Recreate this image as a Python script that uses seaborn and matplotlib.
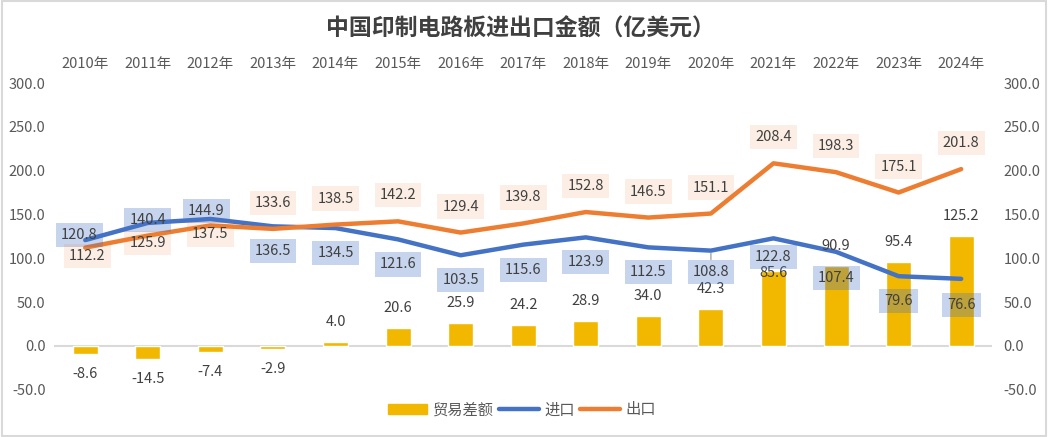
import numpy as np
import pandas as pd
import matplotlib
matplotlib.use("Agg")
import matplotlib.pyplot as plt
import seaborn as sns
from matplotlib.patches import Patch, Rectangle
from matplotlib.lines import Line2D

years = ["2010年", "2011年", "2012年", "2013年", "2014年", "2015年", "2016年", "2017年",
         "2018年", "2019年", "2020年", "2021年", "2022年", "2023年", "2024年"]
balance = [-8.6, -14.5, -7.4, -2.9, 4.0, 20.6, 25.9, 24.2, 28.9, 34.0, 42.3, 85.6, 90.9, 95.4, 125.2]
imports = [120.8, 140.4, 144.9, 136.5, 134.5, 121.6, 103.5, 115.6, 123.9, 112.5, 108.8, 122.8, 107.4, 79.6, 76.6]
exports = [112.2, 125.9, 137.5, 133.6, 138.5, 142.2, 129.4, 139.8, 152.8, 146.5, 151.1, 208.4, 198.3, 175.1, 201.8]

# label offsets in pixels (dx, dy), mimicking excel's placement
imp_off = [(-6, 5), (0, 3), (-4, 8), (0, -25), (0, -25), (0, -25), (0, -25), (0, -25),
           (0, -25), (0, -25), (0, -21), (0, -19), (0, -26), (0, -25), (0, -26)]
exp_off = [(2, -8), (0, -7), (0, -9), (0, 26), (0, 26), (0, 26), (0, 26), (0, 26),
           (0, 26), (0, 26), (0, 26), (0, 26), (0, 26), (0, 26), (0, 26)]
bal_off = [(0, -20)] * 4 + [(0, 20)] * 7 + [(0, -2)] + [(0, 20)] * 3

sns.set_style("white")
plt.rcParams['font.family'] = ['Noto Sans CJK SC', 'DejaVu Sans']

GOLD = "#F2B800"
BLUE = "#4472C4"
ORANGE = "#ED7D31"
TXT = "#404040"
TICK = "#595959"

df = pd.DataFrame({"year": years, "balance": balance, "imports": imports, "exports": exports})
df["pos"] = np.arange(len(df))

fig = plt.figure(figsize=(10.48, 4.37), dpi=100)
ax = fig.add_axes([0.0515, 0.108, 0.8955, 0.702])

sns.barplot(data=df, x="pos", y="balance", color=GOLD, width=0.4, ax=ax,
            saturation=1, native_scale=True, zorder=2)
sns.lineplot(data=df, x="pos", y="imports", color=BLUE, lw=3.2, ax=ax, zorder=3,
             solid_capstyle="round")
sns.lineplot(data=df, x="pos", y="exports", color=ORANGE, lw=3.2, ax=ax, zorder=3,
             solid_capstyle="round")

ax.axhline(0, color="#D9D9D9", lw=1.5, zorder=1)
ax.set_xlim(-0.5, len(years) - 0.5)
ax.set_ylim(-50, 300)
ticks = np.arange(-50, 301, 50)
ax.set_yticks(ticks)
ax.set_yticklabels([f"{v:.1f}" for v in ticks], color=TICK, fontsize=10.5)
ax.set_xticks(df["pos"])
ax.set_xticklabels(years, color=TICK, fontsize=10.5)
ax.xaxis.tick_top()
ax.tick_params(axis="x", length=0, pad=9)
ax.tick_params(axis="y", length=0, pad=6)
ax.set_xlabel("")
ax.set_ylabel("")
for s in ax.spines.values():
    s.set_visible(False)

ax2 = ax.twinx()
ax2.set_ylim(-50, 300)
ax2.set_yticks(ticks)
ax2.set_yticklabels([f"{v:.1f}" for v in ticks], color=TICK, fontsize=10.5)
ax2.tick_params(axis="y", length=0, pad=8)
for s in ax2.spines.values():
    s.set_visible(False)

# data labels
for i in range(len(years)):
    ax.annotate(f"{balance[i]:.1f}", (i, balance[i]), xytext=bal_off[i], textcoords="offset pixels",
                ha="center", va="center", fontsize=10.5, color=TXT, zorder=5)
    arrow = dict(arrowstyle="-", color="#A6A6A6", lw=1, shrinkA=0, shrinkB=2) if i == 10 else None
    ax.annotate(f"{imports[i]:.1f}", (i, imports[i]), xytext=imp_off[i], textcoords="offset pixels",
                ha="center", va="center", fontsize=10.5, color=TXT, zorder=6, arrowprops=arrow,
                bbox=dict(boxstyle="square,pad=0.35", fc=BLUE, alpha=0.3, ec="none"))
    ax.annotate(f"{exports[i]:.1f}", (i, exports[i]), xytext=exp_off[i], textcoords="offset pixels",
                ha="center", va="center", fontsize=10.5, color=TXT, zorder=6,
                bbox=dict(boxstyle="square,pad=0.35", fc=ORANGE, alpha=0.13, ec="none"))

fig.text(0.497, 0.934, "中国印制电路板进出口金额（亿美元）", ha="center", va="center", fontsize=16.5,
         fontweight="bold", color=TXT)

handles = [Patch(color=GOLD), Line2D([], [], color=BLUE, lw=3.2), Line2D([], [], color=ORANGE, lw=3.2)]
fig.legend(handles, ["贸易差额", "进口", "出口"], loc="center", bbox_to_anchor=(0.498, 0.062), ncol=3,
           frameon=False, fontsize=11, handlelength=2.6, columnspacing=0.3, handletextpad=0.4,
           labelcolor=TICK)

# chart border
fig.patches.append(Rectangle((0.002, 0.003), 0.996, 0.994, transform=fig.transFigure,
                             fill=False, ec="#D9D9D9", lw=1.5))

fig.savefig("out.png", dpi=100)
